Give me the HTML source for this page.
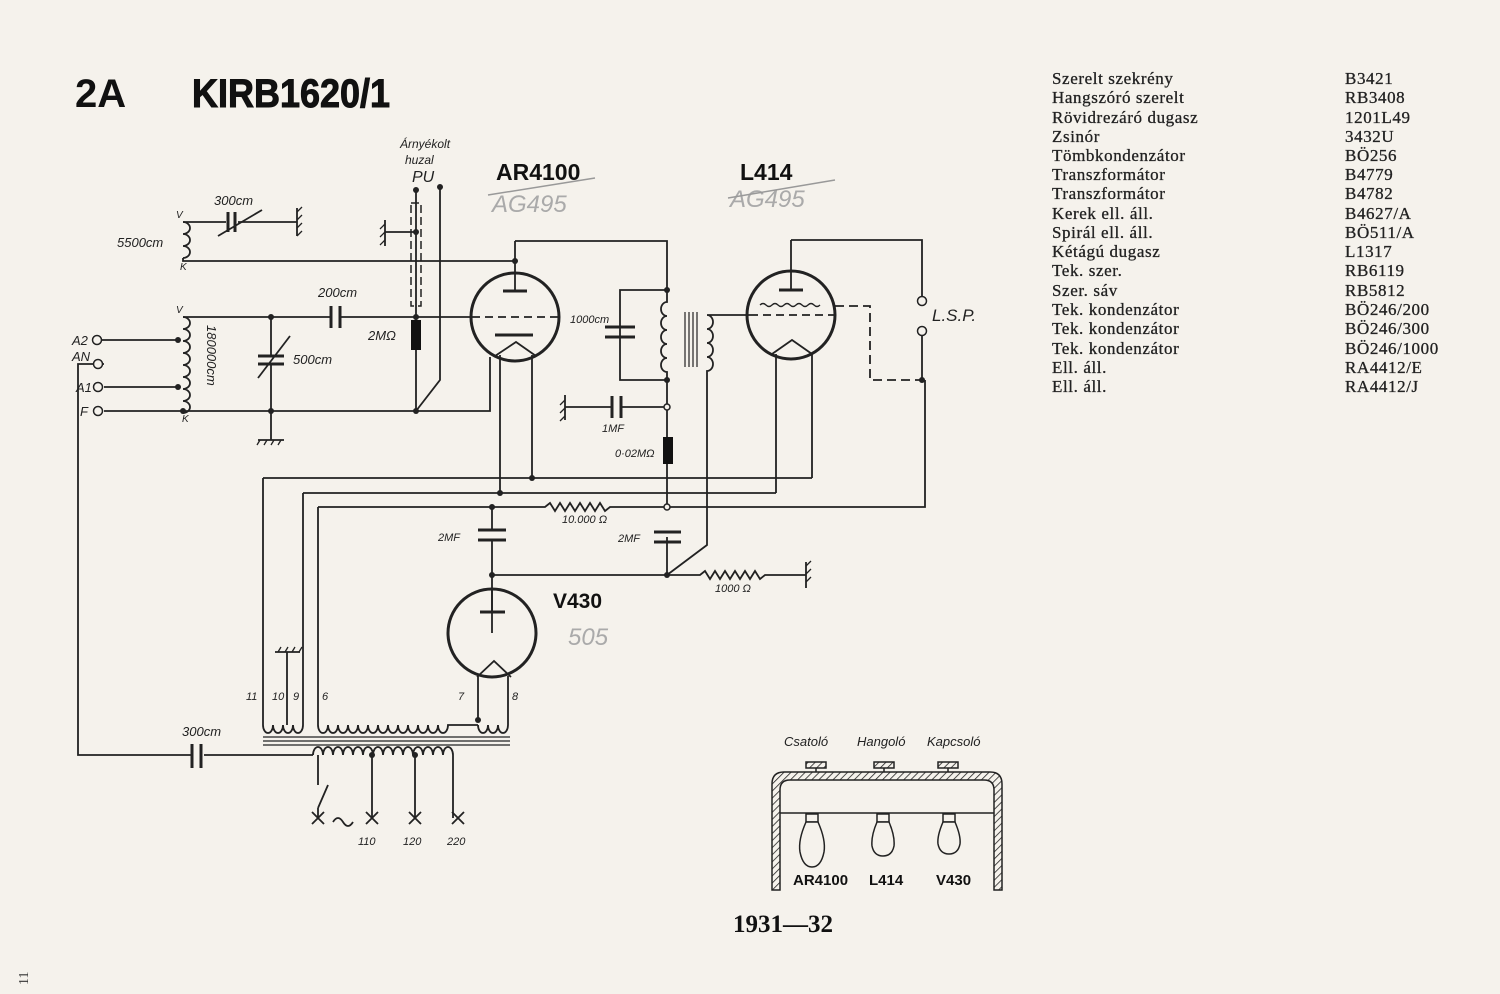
<!DOCTYPE html>
<html><head><meta charset="utf-8"><style>
html,body{margin:0;padding:0;background:#f5f2ec;}
svg{display:block}
.t{font-family:"Liberation Sans",sans-serif;font-style:italic;fill:#222;font-size:13px}
.b{font-family:"Liberation Sans",sans-serif;font-weight:bold;fill:#111}
.s{font-family:"Liberation Serif",serif;fill:#222;font-size:17px;letter-spacing:0.6px;stroke:#222;stroke-width:0.3}
</style></head><body>
<svg width="1500" height="994" viewBox="0 0 1500 994" xmlns="http://www.w3.org/2000/svg">
<rect width="1500" height="994" fill="#f5f2ec"/>
<text x="75" y="107" class="b" font-size="40">2A</text>
<text x="192" y="107" class="b" font-size="40" textLength="198" lengthAdjust="spacingAndGlyphs" stroke="#111" stroke-width="1">KIRB1620/1</text>

<g class="s">
<text x="1052" y="84">Szerelt szekrény</text><text x="1345" y="84">B3421</text>
<text x="1052" y="103">Hangszóró szerelt</text><text x="1345" y="103">RB3408</text>
<text x="1052" y="123">Rövidrezáró dugasz</text><text x="1345" y="123">1201L49</text>
<text x="1052" y="142">Zsinór</text><text x="1345" y="142">3432U</text>
<text x="1052" y="161">Tömbkondenzátor</text><text x="1345" y="161">BÖ256</text>
<text x="1052" y="180">Transzformátor</text><text x="1345" y="180">B4779</text>
<text x="1052" y="199">Transzformátor</text><text x="1345" y="199">B4782</text>
<text x="1052" y="219">Kerek ell. áll.</text><text x="1345" y="219">B4627/A</text>
<text x="1052" y="238">Spirál ell. áll.</text><text x="1345" y="238">BÖ511/A</text>
<text x="1052" y="257">Kétágú dugasz</text><text x="1345" y="257">L1317</text>
<text x="1052" y="276">Tek. szer.</text><text x="1345" y="276">RB6119</text>
<text x="1052" y="296">Szer. sáv</text><text x="1345" y="296">RB5812</text>
<text x="1052" y="315">Tek. kondenzátor</text><text x="1345" y="315">BÖ246/200</text>
<text x="1052" y="334">Tek. kondenzátor</text><text x="1345" y="334">BÖ246/300</text>
<text x="1052" y="354">Tek. kondenzátor</text><text x="1345" y="354">BÖ246/1000</text>
<text x="1052" y="373">Ell. áll.</text><text x="1345" y="373">RA4412/E</text>
<text x="1052" y="392">Ell. áll.</text><text x="1345" y="392">RA4412/J</text>
</g>
<text x="783" y="932" text-anchor="middle" font-family="Liberation Serif,serif" font-weight="bold" font-size="25" fill="#111">1931—32</text>
<text x="0" y="0" transform="translate(28,985) rotate(-90)" font-family="Liberation Serif,serif" font-size="14" fill="#333">11</text>

<g fill="none" stroke="#222" stroke-width="1.8">
<path d="M183 222 a7 6 0 1 1 0 12 a7 6 0 1 1 0 12 a7 6 0 1 1 0 12"/>
<path d="M183 222 H226 M238 222 H297 M297 208 V236"/>
<path d="M228 212 V232 M235 212 V232" stroke-width="3"/>
<path d="M218 236 L262 210"/>
<path d="M183 258 V261 H515"/>
<circle cx="515" cy="317" r="44" stroke-width="3"/>
<path d="M515 241 V290"/>
<path d="M503 291 H527" stroke-width="3"/>
<path d="M515 241 H667 V290"/>
<path d="M472 317 H560" stroke-dasharray="8 5"/>
<path d="M495 335 H533" stroke-width="3"/>
<path d="M495 356 L516 342 L536 356"/>
<path d="M500 355 V493 M532 355 V478"/>
<path d="M183 317 a7 6 0 1 1 0 12 a7 6 0 1 1 0 12 a7 6 0 1 1 0 12 a7 6 0 1 1 0 12 a7 6 0 1 1 0 12 a7 6 0 1 1 0 12 a7 6 0 1 1 0 12 a7 6 0 1 1 0 12"/>
<path d="M183 317 H331 M340 317 H472"/>
<path d="M331 306 V328 M340 306 V328" stroke-width="3"/>
<path d="M97 340 H178 M104 387 H178 M104 411 H490 V357"/>
<path d="M104 364 H78 V755 H192 M204 755 H313"/>
<path d="M192 744 V768 M201 744 V768" stroke-width="3"/>
<path d="M271 317 V355 M271 364 V440 M258 440 H284"/>
<path d="M258 356 H284 M258 364 H284" stroke-width="3"/>
<path d="M258 378 L290 336"/>
<path d="M416 190 V320 M416 350 V411 M440 187 V380 L416 411"/>
<rect x="411" y="203" width="10" height="103" stroke-dasharray="8 4" stroke-width="1.5"/>
<path d="M385 232 H416 M385 220 V246"/>
<path d="M667 290 V302 a6 7 0 1 0 0 14 a6 7 0 1 0 0 14 a6 7 0 1 0 0 14 a6 7 0 1 0 0 14 a6 7 0 1 0 0 14 V507"/>
<path d="M685 312 V367 M689 312 V367 M693 312 V367 M697 312 V367" stroke-width="1.2"/>
<path d="M750 315 H707 a6 7 0 1 1 0 14 a6 7 0 1 1 0 14 a6 7 0 1 1 0 14 a6 7 0 1 1 0 14 V545 L667 575"/>
<path d="M667 290 H620 V380 H667"/>
<path d="M605 327 H635 M605 337 H635" stroke-width="3"/>
<path d="M667 407 H621 M612 407 H565 M565 395 V420"/>
<path d="M612 396 V418 M621 396 V418" stroke-width="3"/>
<path d="M667 537 V575 M492 507 V530 M492 541 V633"/>
<path d="M654 532 H681 M654 542 H681 M478 530 H506 M478 540 H506" stroke-width="3"/>
<path d="M318 507 H545 l5 -4 l5 8 l5 -8 l5 8 l5 -8 l5 8 l5 -8 l5 8 l5 -8 l5 8 l5 -8 l5 8 l5 -4 H925 V380"/>
<path d="M492 575 H700 l5 -4 l5 8 l5 -8 l5 8 l5 -8 l5 8 l5 -8 l5 8 l5 -8 l5 8 l5 -8 l5 8 l5 -4 H806 M806 562 V588"/>
<circle cx="791" cy="315" r="44" stroke-width="3"/>
<path d="M791 240 V290"/>
<path d="M791 240 H922 V297"/>
<path d="M779 290 H803" stroke-width="3"/>
<path d="M760 305 q3 -3 6 0 t6 0 t6 0 t6 0 t6 0 t6 0 t6 0 t6 0 t6 0 t6 0" stroke-width="1.3"/>
<path d="M750 315 H835" stroke-dasharray="8 5"/>
<path d="M772 354 L792 340 L812 354"/>
<path d="M776 354 V493 M812 354 V478"/>
<path d="M835 306 H870 V380 H922" stroke-dasharray="9 5"/>
<path d="M922 335 V380"/>
<path d="M263 478 H812 M303 493 H776 M263 478 V725 M303 493 V725 M318 507 V725"/>
<circle cx="492" cy="633" r="44" stroke-width="3"/>
<path d="M492 590 V612"/>
<path d="M480 612 H505" stroke-width="3"/>
<path d="M477 677 L494 661 L511 677 M478 676 V720 M508 676 V725"/>
<path d="M263 725 a5 8 0 1 0 10 0 a5 8 0 1 0 10 0 a5 8 0 1 0 10 0 a5 8 0 1 0 10 0" />
<path d="M287 652 V725 M275 652 H300"/>
<path d="M318 725 a5 8 0 1 0 10 0 a5 8 0 1 0 10 0 a5 8 0 1 0 10 0 a5 8 0 1 0 10 0 a5 8 0 1 0 10 0 a5 8 0 1 0 10 0 a5 8 0 1 0 10 0 a5 8 0 1 0 10 0 a5 8 0 1 0 10 0 a5 8 0 1 0 10 0 a5 8 0 1 0 10 0 a5 8 0 1 0 10 0 a5 8 0 1 0 10 0 H478"/>
<path d="M478 725 a5 8 0 1 0 10 0 a5 8 0 1 0 10 0 a5 8 0 1 0 10 0"/>
<path d="M263 737 H510 M263 741 H510 M263 745 H510" stroke-width="1.3"/>
<path d="M313 755 a5 8 0 1 1 10 0 a5 8 0 1 1 10 0 a5 8 0 1 1 10 0 a5 8 0 1 1 10 0 a5 8 0 1 1 10 0 a5 8 0 1 1 10 0 a5 8 0 1 1 10 0 a5 8 0 1 1 10 0 a5 8 0 1 1 10 0 a5 8 0 1 1 10 0 a5 8 0 1 1 10 0 a5 8 0 1 1 10 0 a5 8 0 1 1 10 0 a5 8 0 1 1 10 0 V818"/>
<path d="M372 755 V818 M415 755 V818 M318 755 V785 M318 808 L328 785 M318 808 V818"/>
<path d="M312 812 l12 12 M324 812 l-12 12 M366 812 l12 12 M378 812 l-12 12 M409 812 l12 12 M421 812 l-12 12 M452 812 l12 12 M464 812 l-12 12"/>
<path d="M333 822 q5 -8 10 0 t10 0"/>
<path d="M297 212 l5 -5 M297 220 l5 -5 M297 228 l5 -5 M297 236 l5 -5 M385 224 l-5 5 M385 232 l-5 5 M385 240 l-5 5 M565 400 l-5 5 M565 408 l-5 5 M565 416 l-5 5 M806 566 l5 -5 M806 574 l5 -5 M806 582 l5 -5 M260 440 l-3 5 M267 440 l-3 5 M274 440 l-3 5 M281 440 l-3 5 M278 652 l3 -5 M285 652 l3 -5 M292 652 l3 -5 M299 652 l3 -5" stroke-width="1.3"/>
</g>
<rect x="411" y="320" width="10" height="30" fill="#111"/>
<rect x="663" y="437" width="10" height="27" fill="#111"/>
<g fill="#222">
<circle cx="515" cy="261" r="3"/><circle cx="271" cy="317" r="3"/><circle cx="416" cy="317" r="3"/><circle cx="271" cy="411" r="3"/><circle cx="416" cy="411" r="3"/><circle cx="178" cy="340" r="3"/><circle cx="178" cy="387" r="3"/><circle cx="183" cy="411" r="3"/><circle cx="416" cy="190" r="3"/><circle cx="440" cy="187" r="3"/><circle cx="416" cy="232" r="3"/><circle cx="667" cy="290" r="3"/><circle cx="667" cy="380" r="3"/><circle cx="667" cy="575" r="3"/><circle cx="492" cy="507" r="3"/><circle cx="492" cy="575" r="3"/><circle cx="532" cy="478" r="3"/><circle cx="500" cy="493" r="3"/><circle cx="922" cy="380" r="3"/><circle cx="478" cy="720" r="3"/><circle cx="372" cy="755" r="3"/><circle cx="415" cy="755" r="3"/>
</g>
<g fill="#f5f2ec" stroke="#222" stroke-width="1.5">
<circle cx="667" cy="407" r="3"/><circle cx="667" cy="507" r="3"/><circle cx="922" cy="301" r="4.5"/><circle cx="922" cy="331" r="4.5"/>
<circle cx="97" cy="340" r="4.5"/><circle cx="98" cy="364" r="4.5"/><circle cx="98" cy="387" r="4.5"/><circle cx="98" cy="411" r="4.5"/>
</g>

<g class="t">
<text x="214" y="205">300cm</text><text x="117" y="247">5500cm</text>
<text x="176" y="218" font-size="10">V</text><text x="180" y="270" font-size="10">K</text>
<text x="176" y="313" font-size="10">V</text><text x="182" y="422" font-size="10">K</text>
<text x="0" y="0" transform="translate(207,325) rotate(90)">180000cm</text>
<text x="318" y="297">200cm</text><text x="293" y="364">500cm</text><text x="368" y="340">2MΩ</text>
<text x="72" y="345">A2</text><text x="72" y="361">AN</text><text x="76" y="392">A1</text><text x="80" y="416">F</text>
<text x="400" y="148" font-size="12">Árnyékolt</text><text x="405" y="164" font-size="12">huzal</text>
<text x="412" y="182" font-size="16">PU</text>
<text x="570" y="323" font-size="11">1000cm</text><text x="602" y="432" font-size="11">1MF</text>
<text x="615" y="457" font-size="11">0·02MΩ</text>
<text x="562" y="523" font-size="11">10.000 Ω</text><text x="715" y="592" font-size="11">1000 Ω</text>
<text x="438" y="541" font-size="11">2MF</text><text x="618" y="542" font-size="11">2MF</text>
<text x="932" y="321" font-size="17">L.S.P.</text>
<text x="182" y="736">300cm</text>
<text x="246" y="700" font-size="11">11</text><text x="272" y="700" font-size="11">10</text><text x="293" y="700" font-size="11">9</text><text x="322" y="700" font-size="11">6</text><text x="458" y="700" font-size="11">7</text><text x="512" y="700" font-size="11">8</text>
<text x="358" y="845" font-size="11">110</text><text x="403" y="845" font-size="11">120</text><text x="447" y="845" font-size="11">220</text>
<text x="784" y="746">Csatoló</text><text x="857" y="746">Hangoló</text><text x="927" y="746">Kapcsoló</text>
</g>
<text x="496" y="180" class="b" font-size="23">AR4100</text>
<text x="740" y="180" class="b" font-size="23">L414</text>
<text x="553" y="608" class="b" font-size="21">V430</text>
<g font-family="Liberation Sans,sans-serif" fill="#aaa" stroke="none" font-size="24" font-style="italic">
<text x="492" y="212">AG495</text><text x="730" y="207">AG495</text><text x="568" y="645">505</text>
</g>
<path d="M488 195 L595 178 M728 198 L835 180" stroke="#999" stroke-width="1.5"/>

<defs><pattern id="h" width="5" height="5" patternUnits="userSpaceOnUse" patternTransform="rotate(45)"><line x1="0" y1="0" x2="0" y2="5" stroke="#222" stroke-width="1.6"/></pattern></defs>
<path d="M772 890 V784 q0 -12 12 -12 H990 q12 0 12 12 V890 H994 V790 q0 -10 -10 -10 H790 q-10 0 -10 10 V890 Z" fill="url(#h)" stroke="#222" stroke-width="1.5"/>
<path d="M780 813 H994" stroke="#222" stroke-width="1.5"/>
<g fill="#f5f2ec" stroke="#222" stroke-width="1.5">
<rect x="806" y="762" width="20" height="6" fill="url(#h)"/><rect x="874" y="762" width="20" height="6" fill="url(#h)"/><rect x="938" y="762" width="20" height="6" fill="url(#h)"/>
<rect x="806" y="814" width="12" height="8"/><rect x="877" y="814" width="12" height="8"/><rect x="943" y="814" width="12" height="8"/>
<path d="M806 822 q-8 18 -6 30 q3 15 12 15 q9 0 12 -15 q2 -12 -6 -30 Z"/>
<path d="M877 822 q-6 14 -5 24 q2 10 11 10 q9 0 11 -10 q1 -10 -5 -24 Z"/>
<path d="M943 822 q-6 14 -5 22 q2 10 11 10 q9 0 11 -10 q1 -8 -5 -22 Z"/>
</g>
<path d="M816 768 V772 M884 768 V772 M948 768 V772" stroke="#222" stroke-width="1.5"/>
<g class="b" font-size="15"><text x="793" y="885">AR4100</text><text x="869" y="885">L414</text><text x="936" y="885">V430</text></g>
</svg>
</body></html>
